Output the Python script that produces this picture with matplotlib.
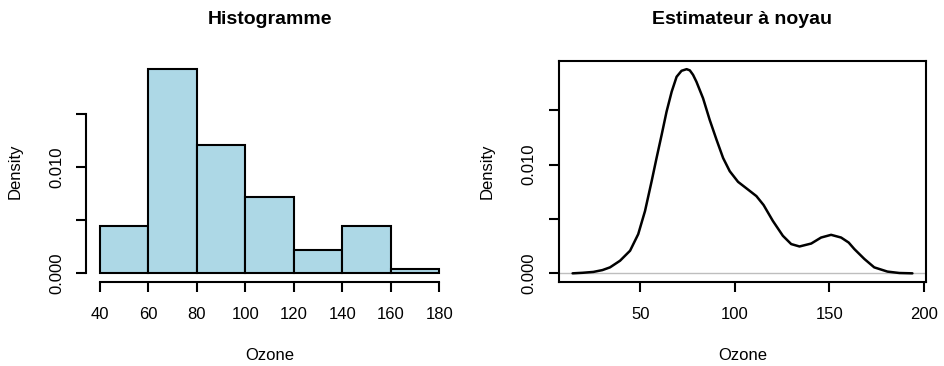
import matplotlib
matplotlib.use("Agg")
import matplotlib.pyplot as plt

plt.rcParams['font.family'] = ['Liberation Sans', 'DejaVu Sans']

# Histogram data (density per bin)
hist_breaks = [40, 60, 80, 100, 120, 140, 160, 180]
hist_density = [0.00446, 0.0192, 0.01205, 0.00714, 0.00223, 0.00446, 0.00045]

# Kernel density estimate
kde_x = [14.2, 19.5, 25.2, 30.0, 34.0, 39.3, 44.6, 48.9, 52.5, 56.0, 58.6, 61.3, 63.9,
         66.6, 69.2, 71.8, 74.5, 76.2, 77.9, 79.7, 83.2, 86.7, 90.3, 93.8, 97.3,
         101.7, 106.9, 111.4, 115.2, 120.1, 125.4, 129.8, 134.2, 140.4, 145.6,
         150.9, 156.2, 160.2, 163.2, 168.5, 173.7, 180.7, 187.0, 193.9]
kde_y = [0.0, 0.00005, 0.00013, 0.0003, 0.00055, 0.00116, 0.00208, 0.0036, 0.00573,
         0.00847, 0.0106, 0.01274, 0.01487, 0.0167, 0.01807, 0.01862, 0.01877,
         0.01866, 0.01825, 0.01761, 0.01609, 0.01411, 0.01229, 0.0106, 0.00939,
         0.00841, 0.00771, 0.0071, 0.00628, 0.00482, 0.00345, 0.00269, 0.00247,
         0.00274, 0.00329, 0.00354, 0.00329, 0.00283, 0.00223, 0.00132, 0.00055,
         0.00016, 0.00003, 0.0]

x_ticks_hist = [40, 60, 80, 100, 120, 140, 160, 180]
x_ticks_kde = [50, 100, 150, 200]
y_ticks = [0.0, 0.005, 0.010, 0.015]
y_ticklabels = ['0.000', '', '0.010', '']

W, H = 945, 366
fig = plt.figure(figsize=(W / 100, H / 100), dpi=100)

lw = 1.5
fs = 12

def px_axes(l, t, r, b):
    return fig.add_axes([l / W, 1 - b / H, (r - l) / W, (b - t) / H])

ax1 = px_axes(86.4, 61.0, 453.0, 281.5)
ax2 = px_axes(559.0, 61.0, 926.0, 281.5)

# Histogram
widths = [hist_breaks[i + 1] - hist_breaks[i] for i in range(len(hist_density))]
ax1.bar(hist_breaks[:-1], hist_density, width=widths, align='edge',
        color='#ADD8E6', edgecolor='black', linewidth=lw)
xr = hist_breaks[-1] - hist_breaks[0]
ax1.set_xlim(hist_breaks[0] - 0.04 * xr, hist_breaks[-1] + 0.04 * xr)
ymax = max(hist_density)
ax1.set_ylim(-0.04 * ymax, 1.04 * ymax)
for s in ['top', 'right']:
    ax1.spines[s].set_visible(False)
ax1.spines['bottom'].set_bounds(hist_breaks[0], hist_breaks[-1])
ax1.spines['left'].set_bounds(y_ticks[0], y_ticks[-1])
ax1.set_xticks(x_ticks_hist)
ax1.set_title('Histogramme', fontsize=14, fontweight='bold', pad=27)

# KDE
ax2.axhline(0, color='#BEBEBE', linewidth=1.0, zorder=1)
ax2.plot(kde_x, kde_y, color='black', linewidth=1.8, solid_joinstyle='round',
         solid_capstyle='round', zorder=2)
kr = kde_x[-1] - kde_x[0]
ax2.set_xlim(kde_x[0] - 0.04 * kr, kde_x[-1] + 0.04 * kr)
km = max(kde_y)
ax2.set_ylim(-0.04 * km, 1.04 * km)
ax2.set_xticks(x_ticks_kde)
ax2.set_title('Estimateur à noyau', fontsize=14, fontweight='bold', pad=27)

for ax in (ax1, ax2):
    for s in ax.spines.values():
        s.set_linewidth(lw)
    ax.set_yticks(y_ticks)
    ax.set_yticklabels(y_ticklabels)
    ax.tick_params(axis='both', direction='out', length=7.2, width=lw,
                   labelsize=fs, color='black')
    ax.tick_params(axis='x', pad=11)
    ax.tick_params(axis='y', pad=9, labelrotation=90)
    for lab in ax.get_yticklabels():
        lab.set_va('center')
    ax.set_xlabel('Ozone', fontsize=fs, va='center')
    ax.set_ylabel('Density', fontsize=fs, va='center')

ax1.xaxis.set_label_coords(0.5, (366 - 355 - 84.5) / 220.5)
ax1.yaxis.set_label_coords((15 - 86.4) / 366.6, 0.5)
ax2.xaxis.set_label_coords(0.5, (366 - 355 - 84.5) / 220.5)
ax2.yaxis.set_label_coords((486.7 - 559) / 367.0, 0.5)

fig.savefig('out.png', dpi=100)
